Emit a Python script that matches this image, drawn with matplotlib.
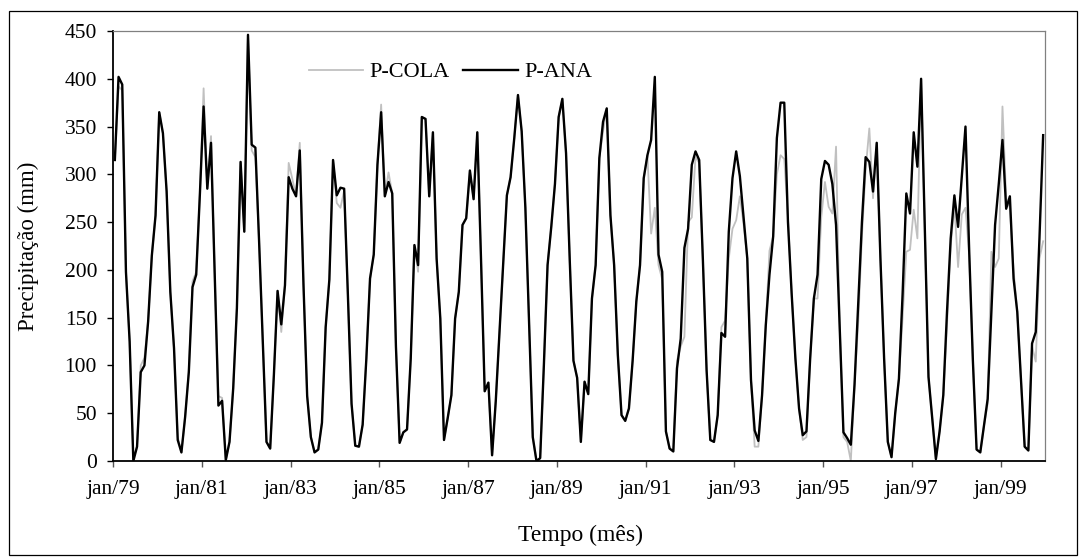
import matplotlib
matplotlib.use('Agg')
import matplotlib.pyplot as plt
from matplotlib.patches import Rectangle

plt.rcParams['font.family'] = ['Liberation Serif', 'DejaVu Serif']

# monthly precipitation, jan/1979 .. dez/1999 (mm)
p_ana = [
    315, 402, 394, 198, 125, 0, 15, 93, 100, 146, 215, 257,      # 1979
    365, 343, 282, 177, 118, 22, 9, 46, 93, 182, 195, 280,       # 1980
    371, 285, 333, 195, 58, 63, 1, 20, 76, 160, 313, 240,        # 1981
    446, 331, 328, 230, 125, 20, 13, 90, 178, 143, 184, 297,     # 1982
    285, 277, 325, 185, 68, 25, 9, 12, 40, 140, 190, 315,        # 1983
    278, 286, 285, 175, 60, 16, 15, 38, 107, 191, 216, 310,      # 1984
    365, 277, 292, 280, 120, 19, 30, 33, 107, 226, 205, 360,     # 1985
    358, 277, 344, 212, 149, 22, 45, 69, 149, 177, 247, 254,     # 1986
    304, 274, 344, 212, 73, 82, 6, 63, 135, 205, 278, 297,       # 1987
    338, 383, 345, 265, 145, 25, 0, 3, 100, 205, 245, 290,       # 1988
    360, 379, 322, 210, 105, 87, 20, 83, 70, 170, 205, 317,      # 1989
    355, 369, 257, 205, 111, 48, 42, 55, 105, 167, 205, 296,     # 1990
    320, 336, 402, 216, 198, 31, 13, 10, 97, 128, 223, 243,      # 1991
    310, 324, 315, 210, 95, 22, 20, 48, 134, 130, 240, 296,      # 1992
    324, 298, 255, 212, 85, 32, 21, 69, 142, 195, 235, 338,      # 1993
    375, 375, 250, 175, 108, 55, 27, 31, 107, 170, 195, 295,     # 1994
    314, 310, 290, 247, 140, 30, 24, 17, 80, 165, 250, 318,      # 1995
    313, 282, 333, 212, 107, 20, 4, 50, 86, 175, 280, 259,       # 1996
    344, 308, 400, 245, 88, 45, 2, 31, 69, 156, 233, 278,        # 1997
    245, 297, 350, 220, 105, 12, 9, 37, 65, 156, 247, 290,       # 1998
    336, 264, 277, 191, 156, 85, 15, 11, 123, 135, 233, 341,     # 1999
]

p_cola = [
    315, 392, 388, 198, 125, 3, 15, 100, 108, 146, 215, 257,     # 1979
    365, 343, 282, 177, 118, 25, 9, 46, 95, 188, 198, 280,       # 1980
    390, 285, 340, 195, 68, 66, 1, 20, 76, 160, 313, 240,        # 1981
    446, 325, 318, 230, 125, 20, 13, 90, 178, 135, 184, 312,     # 1982
    295, 277, 333, 185, 68, 25, 9, 12, 40, 140, 190, 315,        # 1983
    270, 265, 283, 175, 60, 16, 15, 38, 107, 191, 216, 310,      # 1984
    373, 277, 302, 280, 120, 19, 30, 33, 107, 226, 198, 360,     # 1985
    358, 277, 344, 212, 149, 22, 45, 69, 149, 177, 247, 254,     # 1986
    304, 274, 344, 212, 73, 82, 6, 63, 135, 205, 278, 297,       # 1987
    338, 383, 345, 265, 145, 25, 0, 3, 100, 205, 245, 290,       # 1988
    360, 379, 322, 210, 105, 87, 20, 83, 70, 170, 205, 317,      # 1989
    345, 369, 257, 205, 111, 48, 42, 55, 105, 167, 205, 296,     # 1990
    320, 238, 265, 205, 190, 31, 13, 10, 105, 120, 130, 250,     # 1991
    255, 318, 312, 210, 95, 22, 20, 48, 140, 147, 212, 243,      # 1992
    252, 277, 248, 212, 85, 15, 15, 69, 142, 220, 235, 300,      # 1993
    320, 316, 255, 175, 108, 55, 22, 25, 107, 170, 170, 255,     # 1994
    292, 266, 259, 329, 140, 25, 20, 0, 80, 145, 235, 305,       # 1995
    348, 275, 333, 212, 107, 20, 4, 50, 86, 150, 219, 221,       # 1996
    263, 233, 400, 245, 88, 45, 2, 31, 69, 142, 225, 268,        # 1997
    203, 258, 265, 215, 105, 12, 9, 37, 60, 219, 203, 212,       # 1998
    371, 275, 265, 200, 156, 85, 15, 11, 120, 104, 212, 230,     # 1999
]

tick_labels = ['jan/79', 'jan/81', 'jan/83', 'jan/85', 'jan/87', 'jan/89',
               'jan/91', 'jan/93', 'jan/95', 'jan/97', 'jan/99']

months = list(range(len(p_ana)))

W, H = 1079, 557
fig = plt.figure(figsize=(W / 100, H / 100), dpi=100)
ax = fig.add_axes([113 / W, 1 - 461 / H, 932 / W, 430 / H])

# chart area border
fig.patches.append(Rectangle((9 / W, 2 / H), 1068 / W, 544 / H,
                             transform=fig.transFigure, fill=False,
                             edgecolor='black', linewidth=0.9))

ax.plot(months, p_cola, color='#c0c0c0', linewidth=1.3, label='P-COLA')
ax.plot(months, p_ana, color='black', linewidth=1.7, label='P-ANA')

ax.set_xlim(-0.5, len(p_ana) - 0.5)
ax.set_ylim(0, 450)
ax.set_yticks(range(0, 451, 50))
ax.set_xticks([-0.5 + 24 * k for k in range(len(tick_labels))])
ax.set_xticklabels(tick_labels)

ax.spines['left'].set_linewidth(1.3)
ax.spines['bottom'].set_linewidth(1.3)
for s in ['top', 'right']:
    ax.spines[s].set_color('#808080')
    ax.spines[s].set_linewidth(0.9)

ax.tick_params(axis='y', direction='out', length=4.5, width=1, pad=7, labelsize=15.5)
ax.tick_params(axis='x', direction='out', length=4, width=1, color='#555555',
               pad=10, labelsize=15.5)

fig.text(28 / W, 1 - 246 / H, 'Precipitação (mm)', rotation=90,
         ha='center', va='center', fontsize=16.5)
fig.text(580 / W, 1 - 535 / H, 'Tempo (mês)', ha='center', va='center', fontsize=17)

fig.legend(loc='center left', bbox_to_anchor=(309 / W, 1 - 72 / H),
           ncol=2, frameon=False, fontsize=16, handlelength=2.45,
           handletextpad=0.28, columnspacing=0.6, borderpad=0, borderaxespad=0)

fig.savefig('out.png', dpi=100)
